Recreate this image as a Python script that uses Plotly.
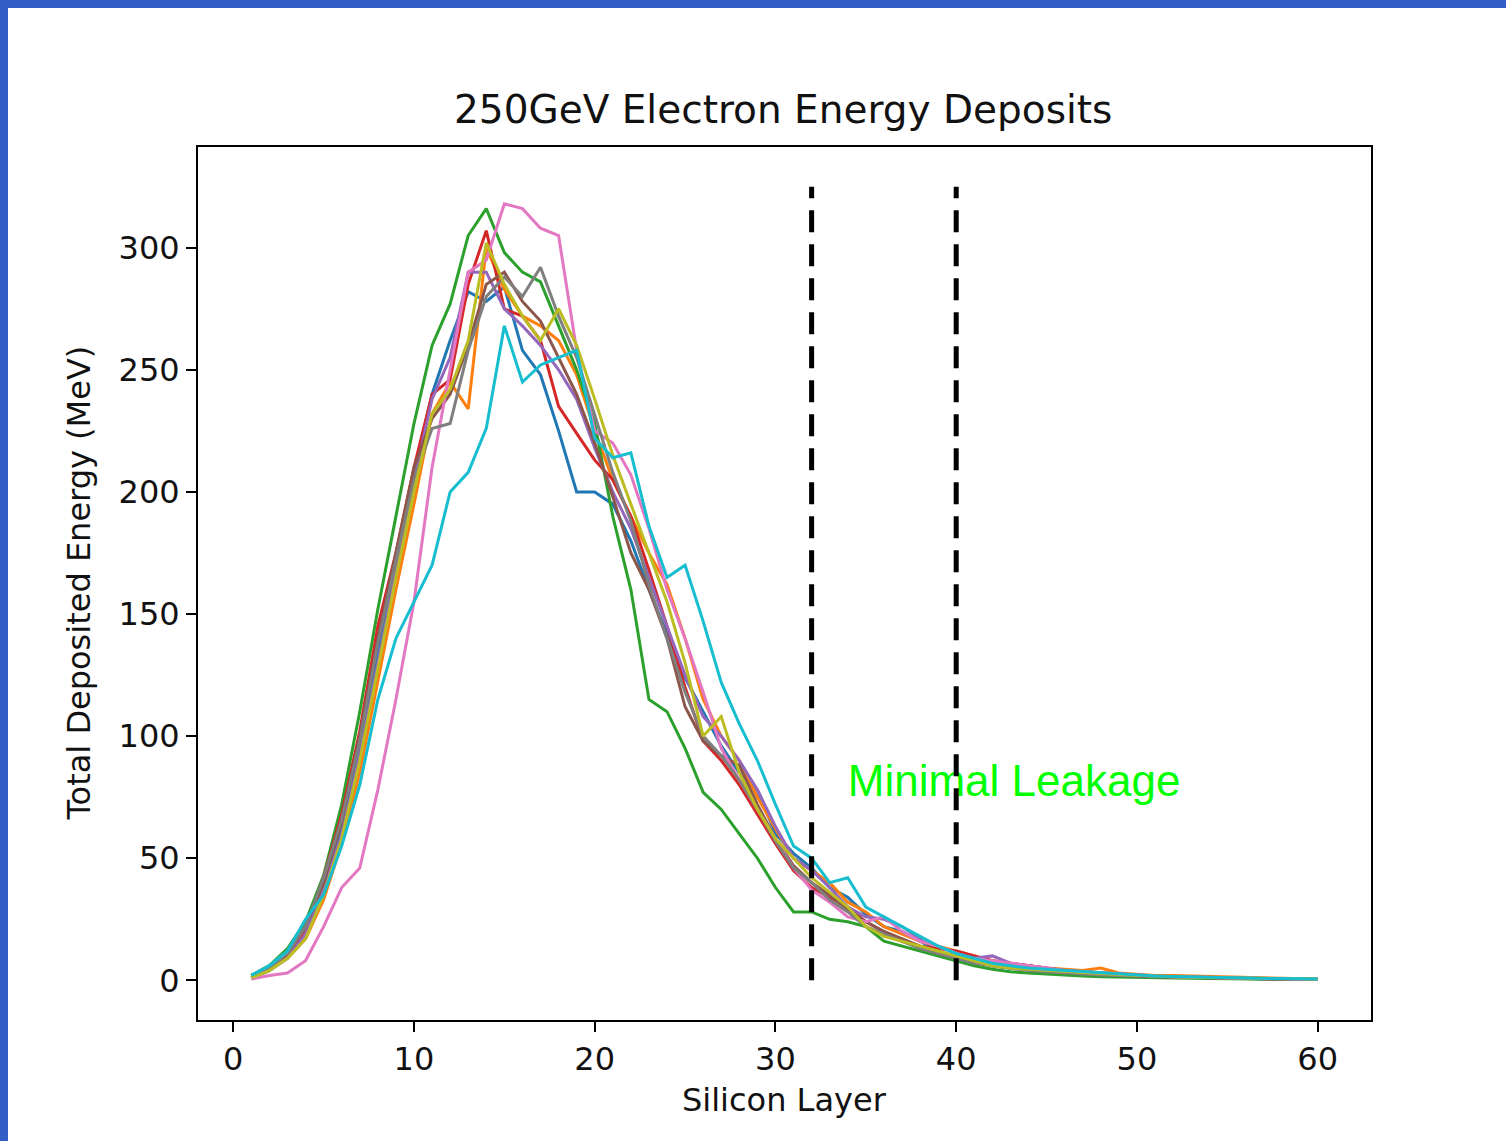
import plotly.graph_objects as go

layers = list(range(1, 61))

s_blue = [1, 4, 10, 22, 40, 62, 95, 135, 172, 208,
          240, 262, 282, 278, 284, 258, 248, 225, 200, 200,
          195, 180, 160, 142, 124, 110, 96, 85, 78, 60,
          52, 46, 38, 34, 27, 22, 20, 16, 12, 9,
          8, 6, 5, 5, 4, 3.5, 3, 2.5, 2.2, 2,
          1.5, 1.3, 1.2, 1, 0.9, 0.8, 0.6, 0.5, 0.4, 0.3]
s_orange = [2, 5, 9, 17, 33, 56, 85, 122, 160, 195,
            232, 245, 234, 300, 283, 272, 268, 262, 248, 225,
            205, 190, 175, 162, 140, 115, 100, 90, 75, 62,
            50, 45, 40, 32, 28, 22, 19, 16, 14, 12,
            10, 8, 7, 6, 5, 4.5, 4, 5, 3, 2.5,
            2, 2, 1.8, 1.5, 1.2, 1, 0.8, 0.7, 0.6, 0.5]
s_green = [2, 6, 13, 24, 43, 72, 110, 152, 190, 228,
           260, 277, 305, 316, 298, 290, 286, 268, 250, 228,
           190, 160, 115, 110, 95, 77, 70, 60, 50, 38,
           28, 28, 25, 24, 22, 16, 14, 12, 10, 8,
           6, 4.5, 3.5, 3, 2.5, 2, 1.8, 1.5, 1.3, 1.2,
           1, 0.9, 0.8, 0.7, 0.6, 0.5, 0.4, 0.4, 0.3, 0.3]
s_red = [1, 4, 10, 21, 42, 68, 102, 145, 175, 210,
         240, 246, 285, 307, 275, 272, 262, 235, 224, 213,
         205, 190, 168, 145, 120, 98, 90, 80, 68, 56,
         45, 38, 34, 30, 24, 20, 16, 14, 13, 12,
         10, 8, 7, 6, 5, 4, 3.5, 3, 2.5, 2,
         1.8, 1.5, 1.3, 1.1, 1, 0.8, 0.7, 0.6, 0.5, 0.4]
s_purple = [1, 4, 9, 19, 37, 60, 92, 130, 168, 205,
            238, 255, 290, 290, 275, 268, 260, 250, 238, 218,
            200, 185, 165, 145, 125, 108, 100, 90, 78, 63,
            50, 45, 38, 30, 26, 25, 22, 17, 14, 11,
            9, 10, 7, 6, 5, 4, 3.5, 3, 2.5, 2,
            1.7, 1.5, 1.3, 1.1, 1, 0.8, 0.7, 0.6, 0.5, 0.4]
s_brown = [1, 5, 11, 22, 40, 65, 100, 140, 175, 210,
           230, 240, 260, 285, 290, 278, 270, 255, 240, 220,
           198, 175, 160, 140, 112, 98, 92, 88, 72, 58,
           47, 40, 35, 29, 24, 20, 17, 14, 11, 9,
           8, 6, 5, 4.5, 4, 3.5, 3, 2.5, 2, 1.8,
           1.5, 1.3, 1.1, 1, 0.9, 0.8, 0.6, 0.5, 0.4, 0.3]
s_pink = [0.5, 2, 3, 8, 22, 38, 46, 78, 115, 155,
          210, 250, 290, 295, 318, 316, 308, 305, 258, 225,
          220, 207, 185, 160, 140, 118, 95, 82, 70, 58,
          46, 37, 32, 26, 24, 26, 20, 16, 14, 11,
          9, 8, 7, 6, 5, 4, 3.5, 3, 2.5, 2,
          1.8, 1.5, 1.3, 1.1, 1, 0.8, 0.7, 0.6, 0.5, 0.4]
s_gray = [2, 5, 11, 22, 42, 66, 98, 138, 172, 205,
          226, 228, 258, 280, 288, 280, 292, 272, 255, 232,
          208, 188, 162, 140, 118, 100, 92, 82, 70, 57,
          46, 40, 33, 28, 22, 19, 16, 13, 11, 9,
          7, 6, 5, 4, 3.5, 3, 2.6, 2.2, 2, 1.8,
          1.5, 1.3, 1.1, 1, 0.9, 0.8, 0.7, 0.6, 0.5, 0.5]
s_olive = [1, 4, 9, 17, 35, 58, 90, 128, 165, 200,
           232, 242, 262, 302, 285, 272, 262, 275, 260, 238,
           215, 195, 175, 155, 130, 100, 108, 85, 70, 58,
           50, 42, 36, 30, 22, 18, 16, 14, 12, 10,
           8, 6, 5, 4.5, 4, 3.5, 3, 2.8, 2.4, 2,
           1.7, 1.5, 1.3, 1.1, 1, 0.9, 0.8, 0.7, 0.6, 0.5]
s_cyan = [2, 6, 12, 25, 35, 55, 80, 115, 140, 155,
          170, 200, 208, 226, 268, 245, 252, 255, 258, 222,
          214, 216, 186, 165, 170, 147, 122, 105, 90, 72,
          55, 50, 40, 42, 30, 26, 22, 18, 14, 11,
          9, 7, 6, 5, 4.5, 4, 3.5, 3, 2.5, 2,
          1.8, 1.6, 1.4, 1.2, 1, 0.9, 0.8, 0.7, 0.6, 0.5]

series = [s_blue, s_orange, s_green, s_red, s_purple,
          s_brown, s_pink, s_gray, s_olive, s_cyan]
colors = ["#1f77b4", "#ff7f0e", "#2ca02c", "#d62728", "#9467bd",
          "#8c564b", "#e377c2", "#7f7f7f", "#bcbd22", "#17becf"]

boundary_layers = [32, 40]
boundary_top = 325
label_x = [34]
label_y = [80]
label_text = ["Minimal Leakage"]

x_ticks = [0, 10, 20, 30, 40, 50, 60]
y_ticks = [0, 50, 100, 150, 200, 250, 300]

fig = go.Figure()
for s, c in zip(series, colors):
    fig.add_trace(go.Scatter(x=layers, y=s, mode="lines",
                             line=dict(color=c, width=3), showlegend=False,
                             hoverinfo="skip"))

fig.add_trace(go.Scatter(x=label_x, y=label_y, mode="text", text=label_text,
                         textposition="middle right",
                         textfont=dict(family="Liberation Sans, Arial", size=44, color="#00ff00"),
                         showlegend=False, hoverinfo="skip"))

for bx in boundary_layers:
    fig.add_trace(go.Scatter(x=[bx, bx], y=[0, boundary_top], mode="lines",
                             line=dict(color="black", width=5, dash="22px,12px"),
                             showlegend=False, hoverinfo="skip"))

font_main = "DejaVu Sans"
axis_common = dict(showline=True, linecolor="black", linewidth=2, mirror=True,
                   showgrid=False, zeroline=False, ticks="outside", ticklen=10,
                   tickwidth=2, tickcolor="black",
                   tickfont=dict(family=font_main, size=32, color="#111111"))

fig.update_layout(
    width=1506, height=1141,
    margin=dict(l=198, r=135, t=147, b=121),
    paper_bgcolor="white", plot_bgcolor="white",
    xaxis=dict(range=[-1.95, 62.95], tickvals=x_ticks, **axis_common),
    yaxis=dict(range=[-16.25, 341.25], tickvals=y_ticks, **axis_common),
    annotations=[
        dict(text="250GeV Electron Energy Deposits", xref="paper", yref="paper",
             x=0.4983, y=1.0424, xanchor="center", yanchor="middle", showarrow=False,
             font=dict(family=font_main, size=39, color="#111111")),
        dict(text="Silicon Layer", xref="paper", yref="paper",
             x=0.5, y=-0.0916, xanchor="center", yanchor="middle", showarrow=False,
             font=dict(family=font_main, size=32, color="#111111")),
        dict(text="Total Deposited Energy (MeV)", xref="paper", yref="paper",
             x=-0.1023, y=0.5, xanchor="center", yanchor="middle", showarrow=False,
             textangle=-90,
             font=dict(family=font_main, size=32, color="#111111")),
    ],
    shapes=[
        dict(type="rect", xref="paper", yref="paper",
             x0=-198 / 1173, x1=-190 / 1173, y0=-121 / 873, y1=1 + 147 / 873,
             fillcolor="#335ec8", line=dict(width=0), layer="above"),
        dict(type="rect", xref="paper", yref="paper",
             x0=-198 / 1173, x1=1 + 135 / 1173, y0=1 + 139 / 873, y1=1 + 147 / 873,
             fillcolor="#335ec8", line=dict(width=0), layer="above"),
    ],
)

fig.write_html("out.html")
